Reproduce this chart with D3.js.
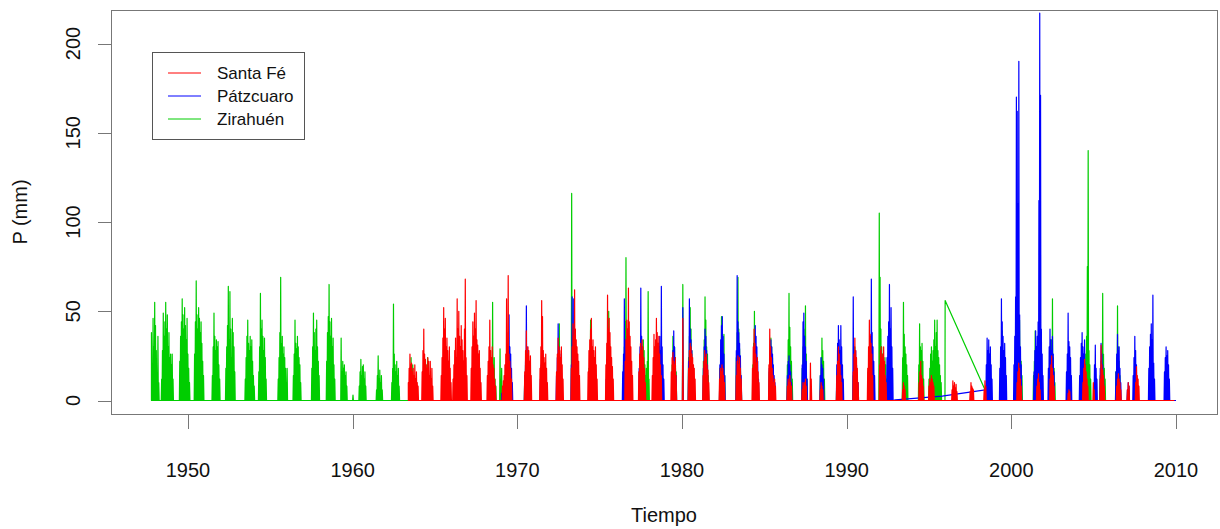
<!DOCTYPE html>
<html>
<head>
<meta charset="utf-8">
<script src="https://cdn.jsdelivr.net/npm/d3@7"></script>
<style>
  html, body { margin: 0; padding: 0; background: #fff; }
  svg { display: block; font-family: "Liberation Sans", Arial, sans-serif; }
</style>
</head>
<body>
<svg id="chart" width="1220" height="529"></svg>
<script>
// Daily precipitation (mm) at three stations of the Pátzcuaro basin.
// Each season row: [first day (decimal year), rain-day totals one every STEP days].
// The days between listed totals are dry (0 mm).
const STEP = 18 / 365.25;

const stationNames = ["Santa Fé", "Pátzcuaro", "Zirahuén"];
const stationColors = ["#FF0000", "#0000FF", "#00CD00"];
const xTicks = [1950, 1960, 1970, 1980, 1990, 2000, 2010];
const yTicks = [0, 50, 100, 150, 200];

// Period covered by each record (decimal years)
const santaFeSpan = [1963.38, 2009.9];
const patzcuaroSpan = [1969.05, 2010.0];
const zirahuenSpan = [1947.78, 2006.9];

const zirahuenSeasons = [
  [1947.78, "38 20 46 30 55 42 28 14 36 10"],
  [1948.40, "12 28 49 36 44 55 40 48 30 38 24 26 20 26 12"],
  [1949.50, "22 36 44 57 48 40 52 42 34 46 26 18 10"],
  [1950.40, "26 44 67 48 40 52 46 38 44 32 22 14"],
  [1951.48, "14 30 49 36 28 34 30 33 20 12"],
  [1952.30, "18 30 42 64 34 61 40 24 46 38 30 16"],
  [1953.48, "12 24 36 45 32 28 36 30 34 22 14 8"],
  [1954.30, "16 30 60 40 45 36 28 35 24 12"],
  [1955.48, "12 24 38 69 32 36 26 30 24 18 10"],
  [1956.02, "18"],
  [1956.40, "14 26 45 32 29 36 30 24 20 10"],
  [1957.52, "18 30 49 38 28 40 45 30 22 14"],
  [1958.42, "22 38 47 65 44 36 46 30 35 20 12"],
  [1959.30, "35 16 22 18 20 14 16 8"],
  [1960.02, "3"],
  [1960.40, "8 16 23 14 19 20 12 16 8"],
  [1961.45, "6 14 25 12 17 10 14 6"],
  [1962.38, "10 18 54 26 20 16 22 14 18 8"],
  [1963.45, "10 18 24 14 20 12 8"],
  [1964.40, "12 20 16 24 14 10"],
  [1965.45, "8 14 22 12 18 10 14"],
  [1966.45, "10 16 20 14 18 8"],
  [1967.45, "12 18 24 16 14 10"],
  [1968.40, "14 22 55 18 24 12 8"],
  [1968.95, "29 12 18"],
  [1969.45, "16 24 20 14 10"],
  [1970.45, "14 20 26 18 12"],
  [1971.45, "12 18 24 20 10"],
  [1972.45, "16 24 43 22 18 12"],
  [1973.30, "116 30 22 28 24 18 21 10"],
  [1974.35, "18 26 45 30 24 20 12"],
  [1975.45, "16 28 50 32 22 18 10"],
  [1976.45, "20 30 44 80 36 28 16"],
  [1977.55, "18 26 34 28 20 14 18 22 61 12"],
  [1978.40, "16 24 30 22 18 10"],
  [1979.40, "20 36 28 30 24 16"],
  [1980.05, "65"],
  [1980.40, "24 36 52 40 28 20 12"],
  [1981.30, "22 34 58 45 30 26 14"],
  [1982.30, "18 28 47 36 26 37 14"],
  [1983.30, "24 38 69 40 29 20 10"],
  [1984.30, "20 32 50 36 28 18 10"],
  [1985.30, "16 28 35 30 24 18 12"],
  [1986.40, "20 34 60 41 30 22 12"],
  [1987.30, "18 30 40 36 53 26 12"],
  [1988.40, "14 24 35 28 22 12"],
  [1989.40, "12 20 26 22 16 10"],
  [1990.40, "14 22 30 24 18 10"],
  [1991.30, "16 24 32 28 20 12"],
  [1991.98, "105 69 40 30 26 22 18 24 20 12"],
  [1993.40, "24 55 37 30 26 20 14"],
  [1994.38, "20 43 30 28 32 22 12"],
  [1995.00, "12 18 26 30 22 28 34 45 30 38 45 28 24 20 14 10"],
  [1998.50, "8 12 10 6"],
  [1999.35, "14 22 39 28 20 16 10"],
  [2000.40, "12 20 45 28 22 14"],
  [2001.35, "14 22 39 26 18 10"],
  [2002.35, "16 26 34 57 24 18 10"],
  [2003.40, "10 16 20 14 10"],
  [2004.42, "12 20 26 36 75 140 28 20 12"],
  [2005.40, "14 22 30 60 26 18 12"],
  [2006.35, "16 24 53 30 22 14"]
];
// Consecutive observations across the 1996-1998 gap in the record
const zirahuenGap = [[1995.97, 0], [1995.98, 56], [1998.42, 5.6]];

const patzcuaroSeasons = [
  [1969.05, "4"],
  [1969.35, "12 20 38 48 30 26 18 10"],
  [1970.45, "14 22 53 30 24 16 10"],
  [1971.40, "12 20 30 26 18 12"],
  [1972.38, "14 24 43 30 26 18 8"],
  [1973.28, "20 58 36 57 28 22 16 10"],
  [1974.35, "14 22 32 26 20 12"],
  [1975.40, "12 20 30 24 18 10"],
  [1976.40, "16 26 57 34 28 20 12"],
  [1977.40, "18 30 63 36 28 22 12"],
  [1978.50, "14 22 30 36 28 64 30 20 12"],
  [1979.40, "16 28 39 30 22 14"],
  [1980.05, "52"],
  [1980.40, "22 57 40 34 28 20 12"],
  [1981.30, "18 30 40 36 28 20 10"],
  [1982.30, "20 34 42 47 36 26 14"],
  [1983.30, "28 70 44 38 32 25 14"],
  [1984.35, "20 32 42 36 30 22 12"],
  [1985.30, "18 28 34 30 26 20 14 10"],
  [1986.40, "14 22 25 20 16 10"],
  [1987.30, "20 44 49 36 30 22 12"],
  [1988.40, "14 24 20 18 12"],
  [1989.40, "20 32 42 34 28 42 30 20 12"],
  [1990.40, "58 30 24 28 20 14 10"],
  [1991.40, "26 36 68 38 30 22 14"],
  [1992.45, "24 36 44 65 40 52 30 18"],
  [1998.48, "20 35 28 34 26 30 20 12"],
  [1999.30, "18 30 57 44 36 28 32 24 14"],
  [2000.16, "20 36 58 170 162 110 190 48 30 20"],
  [2001.38, "16 28 39 30 36 44 112 217 171 40 26 14"],
  [2002.25, "18 30 40 34 28 36 26 16"],
  [2003.35, "16 26 49 33 30 24 14"],
  [2004.15, "14 24 32 38 30 26 34 20 12"],
  [2005.05, "20 31 18 12"],
  [2005.40, "18 32 26 20 14"],
  [2006.35, "16 26 37 28 30 18 10"],
  [2007.05, "6 10 8"],
  [2007.40, "14 24 36 28 20 12"],
  [2008.35, "18 30 37 43 34 59 21 12"],
  [2009.30, "16 24 30 25 28 20 12"]
];
const patzcuaroGap = [[1992.95, 0.4], [1993.9, 1.0], [1995.8, 2.5], [1998.42, 6]];

const santaFeSeasons = [
  [1963.38, "10 18 26 20 21 16 18 14 20 12 16 10 8"],
  [1964.22, "16 28 40 26 23 20 18 24 22 14 22 12 18 8"],
  [1965.38, "14 24 35 52 40 46 30 35 28 22 30 18 10"],
  [1966.10, "12 20 28 35 24 57 40 50 36 30 42 34 28 22 40 68 24 14"],
  [1967.20, "18 30 44 36 49 40 56 34 31 26 28 18 10"],
  [1968.18, "14 22 30 45 28 24 30 20 18 12 8"],
  [1969.10, "8 11 14 20 26 57 24 70 26 22 18 12"],
  [1970.45, "16 28 39 26 30 28 22 25 14"],
  [1971.38, "18 30 56 47 28 24 21 26 18 10"],
  [1972.38, "16 26 35 30 28 24 30 20 12"],
  [1973.28, "18 30 43 36 62 40 34 30 26 22 14"],
  [1974.30, "16 28 34 40 46 30 34 28 24 30 20 12"],
  [1975.38, "20 32 59 40 46 38 30 24 19 12"],
  [1976.55, "22 34 45 40 63 44 36 30 22 14"],
  [1977.38, "16 26 32 28 34 30 24 18 10"],
  [1978.20, "14 24 37 30 34 46 38 32 36 26 20 14"],
  [1979.35, "16 24 27 22 20 24 14"],
  [1980.05, "46"],
  [1980.40, "18 28 32 30 26 24 20 18 12"],
  [1981.28, "14 22 28 24 26 20 17 10"],
  [1982.28, "12 18 16 20 18 14 10"],
  [1983.30, "14 22 25 20 24 18 12"],
  [1984.28, "18 30 40 32 26 21 24 16 10"],
  [1985.28, "20 40 30 24 18 14 10 12 8"],
  [1986.40, "8 12 10 14 10 8"],
  [1987.30, "6 10 8 10 12 8"],
  [1987.80, "21 12"],
  [1988.40, "6 10 8 6"],
  [1989.40, "14 22 30 26 20 14 10"],
  [1990.40, "16 26 35 28 24 18 10"],
  [1991.28, "18 30 45 37 32 26 14"],
  [1992.00, "20 28 30 24 26 30 22 14 10"],
  [1993.40, "6 10 8 6"],
  [1994.40, "10 16 22 14 12 8"],
  [1995.00, "8 12 10 14 12 10 8"],
  [1996.40, "6 11 8 10 7 9 5"],
  [1997.50, "5 10 8 7 6"],
  [1998.35, "6 11 8"],
  [2000.35, "10 16 21 18 12 8"],
  [2001.55, "8 12 15 10 6"],
  [2002.35, "12 20 25 18 14 8"],
  [2003.45, "4 6 5"],
  [2004.35, "10 18 23 20 16 12 8"],
  [2004.98, "10 6"],
  [2005.40, "12 31 20 17 14 8"],
  [2006.40, "8 12 15 12 10 6"],
  [2007.05, "6 10 8"],
  [2007.55, "10 19 14 12 8"]
];
const santaFeGap = [];

// Turn season rows into a dated series of (time, mm) observations
function toSeries(seasons, span, gap) {
  const pts = [[span[0], 0]];
  seasons.forEach(([t0, s]) => {
    const vals = s.trim().split(/\s+/).map(Number);
    pts.push([t0 - STEP / 2, 0]);
    vals.forEach((v, i) => {
      const t = t0 + i * STEP;
      pts.push([t, v]);
      pts.push([t + STEP / 2, 0]);
    });
  });
  gap.forEach(p => pts.push(p));
  pts.push([span[1], 0]);
  pts.sort((a, b) => a[0] - b[0]);
  return pts;
}

const series = [
  toSeries(santaFeSeasons, santaFeSpan, santaFeGap),
  toSeries(patzcuaroSeasons, patzcuaroSpan, patzcuaroGap),
  toSeries(zirahuenSeasons, zirahuenSpan, zirahuenGap)
];

const svg = d3.select("#chart");
const box = { left: 111, right: 1217, top: 10, bottom: 414 };

const x = d3.scaleLinear().domain([1950, 2010]).range([188, 1176]);
const y = d3.scaleLinear().domain([0, 200]).range([400.5, 43.5]);

svg.append("rect").attr("width", 1220).attr("height", 529).attr("fill", "#fff");

const clipId = "plotclip";
svg.append("clipPath").attr("id", clipId)
  .append("rect")
  .attr("x", box.left).attr("y", box.top)
  .attr("width", box.right - box.left).attr("height", box.bottom - box.top);

const line = d3.line().x(d => x(d[0])).y(d => y(d[1]));

// Zirahuén underneath, then Pátzcuaro, Santa Fé on top
const g = svg.append("g").attr("clip-path", `url(#${clipId})`);
[2, 1, 0].forEach(i => {
  g.append("path")
    .datum(series[i])
    .attr("d", line)
    .attr("fill", "none")
    .attr("stroke", stationColors[i])
    .attr("stroke-width", 1.2)
    .attr("stroke-linejoin", "round");
});

// Plot frame
svg.append("rect")
  .attr("x", box.left + 0.5).attr("y", box.top + 0.5)
  .attr("width", box.right - box.left).attr("height", box.bottom - box.top)
  .attr("fill", "none").attr("stroke", "#777").attr("stroke-width", 1);

// X axis
const xAxis = svg.append("g");
xTicks.forEach(t => {
  const px = Math.round(x(t)) + 0.5;
  xAxis.append("line")
    .attr("x1", px).attr("x2", px)
    .attr("y1", box.bottom + 0.5).attr("y2", box.bottom + 15)
    .attr("stroke", "#777");
  xAxis.append("text")
    .attr("x", x(t)).attr("y", 477)
    .attr("text-anchor", "middle")
    .attr("font-size", 20).attr("fill", "#111")
    .text(t);
});
svg.append("text")
  .attr("x", (box.left + box.right) / 2).attr("y", 522)
  .attr("text-anchor", "middle")
  .attr("font-size", 20).attr("fill", "#111")
  .text("Tiempo");

// Y axis
const yAxis = svg.append("g");
yTicks.forEach(t => {
  const py = Math.round(y(t)) + 0.5;
  yAxis.append("line")
    .attr("x1", box.left - 13).attr("x2", box.left + 0.5)
    .attr("y1", py).attr("y2", py)
    .attr("stroke", "#777");
  yAxis.append("text")
    .attr("transform", `translate(80,${y(t)}) rotate(-90)`)
    .attr("text-anchor", "middle")
    .attr("font-size", 20).attr("fill", "#111")
    .text(t);
});
svg.append("text")
  .attr("transform", `translate(27,${(box.top + box.bottom) / 2}) rotate(-90)`)
  .attr("text-anchor", "middle")
  .attr("font-size", 20).attr("fill", "#111")
  .text("P (mm)");

// Legend
const legend = svg.append("g");
legend.append("rect")
  .attr("x", 152.5).attr("y", 52.5).attr("width", 152).attr("height", 87)
  .attr("fill", "#fff").attr("stroke", "#555");
stationNames.forEach((name, i) => {
  const ly = 73 + i * 23;
  legend.append("line")
    .attr("x1", 168).attr("x2", 201)
    .attr("y1", ly).attr("y2", ly)
    .attr("stroke", stationColors[i]).attr("stroke-width", 1);
  legend.append("text")
    .attr("x", 217).attr("y", ly + 6)
    .attr("font-size", 17).attr("fill", "#111")
    .text(name);
});
</script>
</body>
</html>
